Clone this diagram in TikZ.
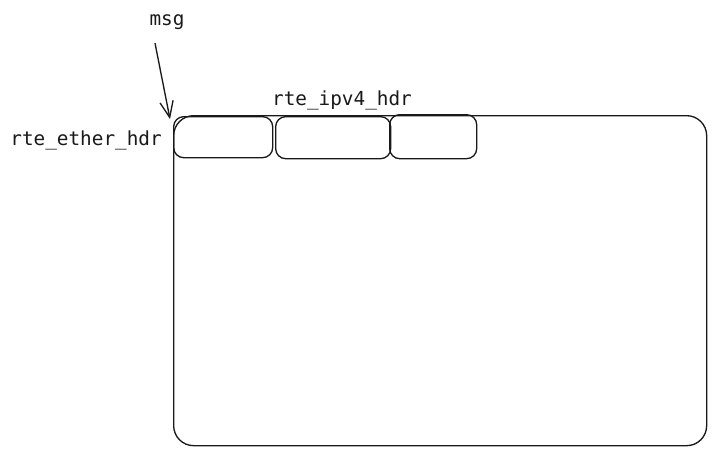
\documentclass[tikz,border=0pt]{standalone}
\usepackage{fontspec}
\setmonofont{DejaVu Sans Mono}
\usetikzlibrary{arrows.meta}
\begin{document}
\begin{tikzpicture}[x=0.75pt,y=-0.75pt,
  box/.style={draw=black!90,line width=1pt,rounded corners=7.5pt},
  lbl/.style={font=\ttfamily\fontsize{14.5}{16}\selectfont,inner sep=0pt,text=black!90},
  arr/.style={draw=black!90,line width=1pt,-{Straight Barb[length=12pt,width=10pt]}}]
\useasboundingbox (0,0) rectangle (714,455);
\node[box,minimum width=533*0.75pt,minimum height=330*0.75pt,rounded corners=15pt,anchor=north west] (msgbox) at (173,115) {};
\node[box,minimum width=99*0.75pt,minimum height=41*0.75pt,anchor=north west] (eth) at (173,116) {};
\node[box,minimum width=115*0.75pt,minimum height=42*0.75pt,anchor=north west] (ip1) at (275,116) {};
\node[box,minimum width=87*0.75pt,minimum height=44*0.75pt,anchor=north west] (ip2) at (389,114) {};
\node[lbl] (msg) at (167,22) {msg};
\node[lbl] (iplbl) at (342,100) {rte\_ipv4\_hdr};
\node[lbl,anchor=east] (ethlbl) at (162,140) {rte\_ether\_hdr};
\coordinate (tip) at (170,119);
\draw[arr] (msg.south) ++(-9pt,-10pt) -- (tip);
\end{tikzpicture}
\end{document}
